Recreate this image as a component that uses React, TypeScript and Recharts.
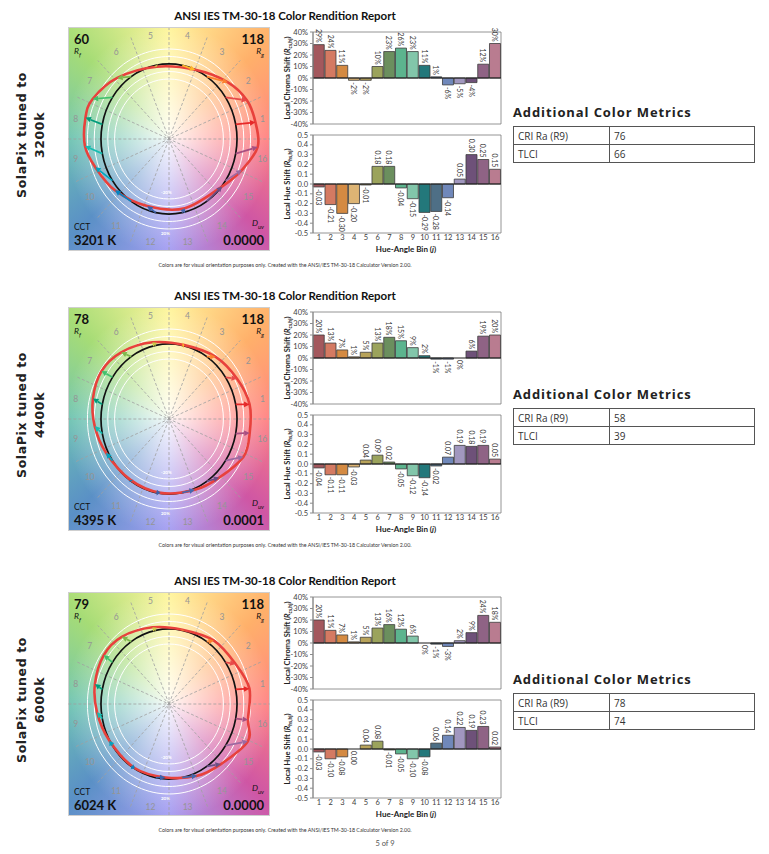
import React from 'react';
import {
  Bar, XAxis, YAxis, Cell, LabelList, ReferenceLine, ReferenceArea,
  ComposedChart, Line, Scatter,
} from 'recharts';

// ---------- data ----------
const BINS = ['1', '2', '3', '4', '5', '6', '7', '8', '9', '10', '11', '12', '13', '14', '15', '16'];

const CHROMA_3200 = [0.29, 0.24, 0.11, -0.02, -0.02, 0.10, 0.23, 0.26, 0.23, 0.11, 0.01, -0.06, -0.05, -0.04, 0.12, 0.30];
const HUE_3200 = [-0.03, -0.21, -0.30, -0.20, -0.01, 0.18, 0.18, -0.04, -0.15, -0.29, -0.28, -0.14, 0.05, 0.30, 0.25, 0.15];

const CHROMA_4400 = [0.20, 0.13, 0.07, 0.01, 0.05, 0.13, 0.18, 0.15, 0.09, 0.02, -0.01, -0.01, 0.00, 0.06, 0.19, 0.20];
const HUE_4400 = [-0.04, -0.11, -0.11, -0.03, 0.04, 0.09, 0.02, -0.05, -0.12, -0.14, -0.02, 0.07, 0.19, 0.18, 0.19, 0.05];

const CHROMA_6000 = [0.20, 0.11, 0.07, 0.01, 0.05, 0.13, 0.16, 0.12, 0.06, 0.00, -0.01, -0.03, 0.02, 0.09, 0.24, 0.18];
const HUE_6000 = [-0.03, -0.10, -0.08, 0.00, 0.04, 0.08, -0.01, -0.05, -0.10, -0.08, 0.06, 0.14, 0.22, 0.19, 0.23, 0.02];

const SECTION_NAMES = ['3200k', '4400k', '6000k'];
const RF_VALUES = ['60', '78', '79'];
const RG_VALUES = ['118', '118', '118'];
const CCT_VALUES = ['3201 K', '4395 K', '6024 K'];
const DUV_VALUES = ['0.0000', '0.0001', '0.0000'];
const CRI_VALUES = ['76', '58', '78'];
const TLCI_VALUES = ['66', '39', '74'];

const CHROMA_TICKS = [-0.4, -0.3, -0.2, -0.1, 0, 0.1, 0.2, 0.3, 0.4];
const HUE_TICKS = [-0.5, -0.4, -0.3, -0.2, -0.1, 0, 0.1, 0.2, 0.3, 0.4, 0.5];
const GUIDE_RADII = [0.8, 0.9, 1.1, 1.2];

const BAR_COLORS = ['#A3585D', '#D47A62', '#D48A42', '#DDB474', '#B8A35A', '#9BA35C', '#6B8F5E', '#5CB48E',
  '#82C6AA', '#23787B', '#4E6F86', '#7088BA', '#A197BF', '#6E5179', '#8F6385', '#B97C90'];
const ARROW_COLORS = ['#E62828', '#E74B4B', '#FB812E', '#FFB529', '#CBCA46', '#7EB94C', '#41C06D', '#009C7C',
  '#16BCB0', '#00A4BF', '#0085C3', '#3B62AA', '#4568AE', '#6A4E85', '#9D69A1', '#A74F81'];

const SECTION_OFFSETS = [0, 280, 565];
const TABLE_OFFSETS = [0, 282, 567];

// ---------- helpers ----------
const closedCardinal = (context: any) => {
  let pts: number[][] = [];
  return {
    areaStart() {},
    areaEnd() {},
    lineStart() { pts = []; },
    point(x: number, y: number) { pts.push([+x, +y]); },
    lineEnd() {
      const n = pts.length;
      if (!n) return;
      context.moveTo(pts[0][0], pts[0][1]);
      const t = 1 / 6;
      for (let i = 0; i < n; i++) {
        const p0 = pts[(i - 1 + n) % n];
        const p1 = pts[i];
        const p2 = pts[(i + 1) % n];
        const p3 = pts[(i + 2) % n];
        context.bezierCurveTo(
          p1[0] + (p2[0] - p0[0]) * t, p1[1] + (p2[1] - p0[1]) * t,
          p2[0] - (p3[0] - p1[0]) * t, p2[1] - (p3[1] - p1[1]) * t,
          p2[0], p2[1],
        );
      }
      context.closePath();
    },
  };
};

const arrowShape = (color: string) => (p: any) => {
  const x1 = +p.x1, y1 = +p.y1, x2 = +p.x2, y2 = +p.y2;
  const dx = x2 - x1, dy = y2 - y1;
  const len = Math.hypot(dx, dy) || 1;
  const ux = dx / len, uy = dy / len;
  const hl = Math.min(5.5, len * 0.8), hw = 2.8;
  const bx = x2 - ux * hl, by = y2 - uy * hl;
  return (
    <g>
      <line x1={x1} y1={y1} x2={bx} y2={by} stroke={color} strokeWidth={1.7} />
      <polygon points={`${x2},${y2} ${bx - uy * hw},${by + ux * hw} ${bx + uy * hw},${by - ux * hw}`} fill={color} />
    </g>
  );
};

const binLabelShape = (p: any) => (
  <text x={p.cx} y={p.cy} textAnchor="middle" dominantBaseline="central" fontSize={8.5}
    fill="#959595" fontFamily="Lato, 'Open Sans', sans-serif">{p.payload.label}</text>
);

// label anchored at the value's end point (line point = bar end)
const valueLabel = (fmt: (v: number) => string) => (props: any) => {
  const vb = props.viewBox && props.viewBox.x !== undefined ? props.viewBox : props;
  const cx = +vb.x + (+vb.width || 0) / 2;
  const py = +vb.y + ((+vb.height || 0) < 0 ? +vb.height : 0);
  const v = +props.value;
  const pos = v > 0;
  const ty = pos ? py - 2 : py + 2;
  return (
    <text x={cx} y={ty} transform={`rotate(90 ${cx} ${ty})`} textAnchor={pos ? 'end' : 'start'}
      dominantBaseline="central" fontSize={7} fill="#333" fontFamily="Lato, sans-serif">{fmt(v)}</text>
  );
};

const pctFmt = (v: number) => `${Math.round(v * 100)}%`;
const hueFmt = (v: number) => (Math.abs(v) < 0.0005 ? '0.00' : v.toFixed(2));

// ---------- components ----------
function VectorGraphic({ chroma, hue, idx }: { chroma: number[]; hue: number[]; idx: number }) {
  const ang = BINS.map((_, i) => ((i + 0.5) * 22.5 * Math.PI) / 180);
  const refPts = ang.map((t) => ({ x: Math.cos(t), y: Math.sin(t) }));
  const testPts = ang.map((t, i) => ({
    x: (1 + chroma[i]) * Math.cos(t) - hue[i] * Math.sin(t),
    y: (1 + chroma[i]) * Math.sin(t) + hue[i] * Math.cos(t),
  }));
  const guides = GUIDE_RADII.map((r) => ang.map((t) => ({ x: r * Math.cos(t), y: r * Math.sin(t) })));
  const labelPts = ang.map((t, i) => ({ x: 1.4 * Math.cos(t), y: 1.4 * Math.sin(t), label: BINS[i] }));
  const spokeAngles = [0, 1, 2, 3, 4, 5, 6, 7].map((k) => (k * 22.5 * Math.PI) / 180);
  const R = 1.48;

  const sub: React.CSSProperties = { fontSize: 6, verticalAlign: 'sub' };
  const big: React.CSSProperties = { fontSize: 13, fontWeight: 700, color: '#111', lineHeight: '14px' };
  const small: React.CSSProperties = { fontSize: 8.5, color: '#111', lineHeight: '10px' };

  return (
    <div style={{
      position: 'absolute', left: 68, top: 27, width: 202, height: 224,
      border: '1px solid #cfcfcf', boxSizing: 'border-box',
      background: 'radial-gradient(ellipse 52% 52% at 50% 50%, rgba(255,255,255,0.93) 0%, rgba(255,255,255,0.5) 45%, rgba(255,255,255,0) 100%), conic-gradient(from 0deg at 50% 50%, #FFF59C 0deg, #FFB06A 45deg, #FF8282 90deg, #CF56A4 135deg, #A59EF2 180deg, #5A90C6 225deg, #6FC4B2 270deg, #A6DC76 315deg, #FFF59C 360deg)',
    }}>
      <div style={{ position: 'absolute', left: -1, top: -1 }}>
        <ComposedChart width={202} height={224} margin={{ top: 0, right: 0, bottom: 0, left: 0 }}>
          <XAxis type="number" dataKey="x" domain={[-1.485, 1.485]} hide allowDataOverflow />
          <YAxis type="number" dataKey="y" domain={[-1.493, 1.493]} hide allowDataOverflow />
          {spokeAngles.map((t, k) => (
            <ReferenceLine key={`s${k}`} ifOverflow="visible"
              segment={[{ x: -R * Math.cos(t), y: -R * Math.sin(t) }, { x: R * Math.cos(t), y: R * Math.sin(t) }]}
              stroke="#a0a0a0" strokeWidth={0.8} strokeDasharray="3 2" />
          ))}
          {guides.map((g, k) => (
            <Line key={`g${k}`} data={g} dataKey="y" type={closedCardinal as any} stroke="#ffffff"
              strokeWidth={1} dot={false} activeDot={false} isAnimationActive={false} />
          ))}
          <Line data={refPts} dataKey="y" type={closedCardinal as any} stroke="#111111" strokeWidth={1.7}
            dot={false} activeDot={false} isAnimationActive={false} />
          <Line data={testPts} dataKey="y" type={closedCardinal as any} stroke="#E8413C" strokeWidth={2.6}
            dot={false} activeDot={false} isAnimationActive={false} />
          {refPts.map((p, i) => (
            <ReferenceLine key={`a${i}`} ifOverflow="visible"
              segment={[{ x: p.x, y: p.y }, { x: testPts[i].x, y: testPts[i].y }]}
              shape={arrowShape(ARROW_COLORS[i])} />
          ))}
          <Scatter data={labelPts} shape={binLabelShape} isAnimationActive={false} />
        </ComposedChart>
      </div>
      <div style={{ position: 'absolute', left: 5, top: 4, ...big }}>{RF_VALUES[idx]}</div>
      <div style={{ position: 'absolute', left: 5, top: 18, ...small, fontStyle: 'italic' }}>R<span style={sub}>f</span></div>
      <div style={{ position: 'absolute', right: 5, top: 4, ...big }}>{RG_VALUES[idx]}</div>
      <div style={{ position: 'absolute', right: 5, top: 18, ...small, fontStyle: 'italic' }}>R<span style={sub}>g</span></div>
      <div style={{ position: 'absolute', left: 5, bottom: 18, ...small }}>CCT</div>
      <div style={{ position: 'absolute', left: 5, bottom: 3, ...big }}>{CCT_VALUES[idx]}</div>
      <div style={{ position: 'absolute', right: 5, bottom: 18, ...small, fontStyle: 'italic' }}>D<span style={sub}>uv</span></div>
      <div style={{ position: 'absolute', right: 5, bottom: 3, ...big }}>{DUV_VALUES[idx]}</div>
      <div style={{ position: 'absolute', left: 92, top: 162, fontSize: 4.5, color: '#fff', fontWeight: 700 }}>-20%</div>
      <div style={{ position: 'absolute', left: 92, top: 203, fontSize: 4.5, color: '#fff', fontWeight: 700 }}>20%</div>
    </div>
  );
}

function ShiftChart({ values, kind }: { values: number[]; kind: 'chroma' | 'hue' }) {
  const data = BINS.map((b, i) => ({ bin: b, value: values[i] }));
  const isHue = kind === 'hue';
  const lim = isHue ? 0.5 : 0.4;
  const fmt = isHue ? hueFmt : pctFmt;
  const tickStyle = { fontSize: 7.5, fill: '#404040', fontFamily: 'Lato, sans-serif' };
  return (
    <div style={{ position: 'absolute', left: 280, top: isHue ? 130 : 27 }}>
      <ComposedChart width={226} height={isHue ? 120 : 102} data={data}
        margin={{ top: 5, right: 5, bottom: 5, left: 0 }} barCategoryGap="2%">
        {isHue ? (
          <XAxis dataKey="bin" height={12} interval={0} axisLine={false} tickLine={false} tickSize={1} tickMargin={1}
            tick={tickStyle} />
        ) : (
          <XAxis dataKey="bin" hide />
        )}
        <YAxis type="number" domain={[-lim, lim]} ticks={isHue ? HUE_TICKS : CHROMA_TICKS} interval={0} width={33}
          tickFormatter={isHue ? (v: number) => v.toFixed(1) : pctFmt} tick={tickStyle}
          tickSize={3} axisLine={{ stroke: '#8c8c8c' }} tickLine={{ stroke: '#8c8c8c' }} allowDataOverflow />
        <ReferenceArea y1={-lim} y2={lim} fill="none" stroke="#7a7a7a" strokeWidth={0.8} ifOverflow="visible" />
        <Bar dataKey="value" stroke="#3c3c3c" strokeWidth={0.8} isAnimationActive={false}>
          {data.map((d, i) => <Cell key={d.bin} fill={BAR_COLORS[i]} />)}
        </Bar>
        <ReferenceLine y={0} stroke="#1a1a1a" strokeWidth={1} />
        <Line dataKey="value" stroke="none" dot={false} activeDot={false} isAnimationActive={false} legendType="none">
          <LabelList dataKey="value" content={valueLabel(fmt)} />
        </Line>
      </ComposedChart>
    </div>
  );
}

function Section({ idx, chroma, hue }: { idx: number; chroma: number[]; hue: number[] }) {
  const off = SECTION_OFFSETS[idx];
  const toff = TABLE_OFFSETS[idx] - off;
  const axisTitle: React.CSSProperties = {
    position: 'absolute', fontSize: 7.5, fontWeight: 700, color: '#222', whiteSpace: 'nowrap',
    transform: 'translate(-50%, -50%) rotate(-90deg)', fontFamily: 'Lato, sans-serif',
  };
  const cell: React.CSSProperties = { border: '1px solid #555', padding: '0 4px', height: 17, fontSize: 10, color: '#333' };
  return (
    <div style={{ position: 'absolute', left: 0, top: off, width: 769, height: 285 }}>
      <div style={{ position: 'absolute', left: 285, top: 9, transform: 'translateX(-50%)', fontSize: 11.5,
        fontWeight: 700, color: '#111', whiteSpace: 'nowrap', fontFamily: 'Lato, sans-serif' }}>
        ANSI IES TM-30-18 Color Rendition Report
      </div>
      <div style={{ position: 'absolute', left: 31, top: 135, transform: 'translate(-50%, -50%) rotate(-90deg)',
        width: 200, textAlign: 'center', fontFamily: "'DejaVu Sans', sans-serif", fontWeight: 700, fontSize: 12.5,
        letterSpacing: 0.6, lineHeight: '18px', color: '#222' }}>
        SolaPix tuned to<br />{SECTION_NAMES[idx]}
      </div>
      <VectorGraphic chroma={chroma} hue={hue} idx={idx} />
      <ShiftChart values={chroma} kind="chroma" />
      <ShiftChart values={hue} kind="hue" />
      <div style={{ ...axisTitle, left: 288, top: 78 }}>Local Chroma Shift (<i>R</i><sub style={{ fontSize: 5 }}>cs,hj</sub>)</div>
      <div style={{ ...axisTitle, left: 288, top: 184 }}>Local Hue Shift (<i>R</i><sub style={{ fontSize: 5 }}>hs,hj</sub>)</div>
      <div style={{ position: 'absolute', left: 406, top: 249, transform: 'translate(-50%, -50%)', fontSize: 8,
        fontWeight: 700, color: '#222', whiteSpace: 'nowrap', fontFamily: 'Lato, sans-serif' }}>
        Hue-Angle Bin (<i>j</i>)
      </div>
      <div style={{ position: 'absolute', left: 285, top: 265, transform: 'translate(-50%, -50%)', fontSize: 5.3,
        color: '#333', whiteSpace: 'nowrap', fontFamily: 'Lato, sans-serif' }}>
        Colors are for visual orientation purposes only. Created with the ANSI/IES TM-30-18 Calculator Version 2.00.
      </div>
      <div style={{ position: 'absolute', left: 513, top: 103 + toff, fontSize: 13, fontWeight: 700, color: '#222',
        letterSpacing: 0.9, whiteSpace: 'nowrap', fontFamily: "'Open Sans', sans-serif" }}>
        Additional Color Metrics
      </div>
      <table style={{ position: 'absolute', left: 513, top: 126 + toff, width: 242, borderCollapse: 'collapse',
        fontFamily: "'Open Sans', sans-serif", border: '1.5px solid #444' }}>
        <tbody>
          <tr><td style={{ ...cell, width: 87 }}>CRI Ra (R9)</td><td style={cell}>{CRI_VALUES[idx]}</td></tr>
          <tr><td style={{ ...cell, width: 87 }}>TLCI</td><td style={cell}>{TLCI_VALUES[idx]}</td></tr>
        </tbody>
      </table>
    </div>
  );
}

export default function App() {
  return (
    <div style={{ position: 'absolute', left: 0, top: 0, width: 769, height: 854, background: '#fff',
      fontFamily: 'Lato, sans-serif', overflow: 'hidden' }}>
      <Section idx={0} chroma={CHROMA_3200} hue={HUE_3200} />
      <Section idx={1} chroma={CHROMA_4400} hue={HUE_4400} />
      <Section idx={2} chroma={CHROMA_6000} hue={HUE_6000} />
      <div style={{ position: 'absolute', left: 385, top: 843, transform: 'translate(-50%, -50%)', fontSize: 7.5,
        color: '#555', fontFamily: 'Lato, sans-serif' }}>5 of 9</div>
    </div>
  );
}
